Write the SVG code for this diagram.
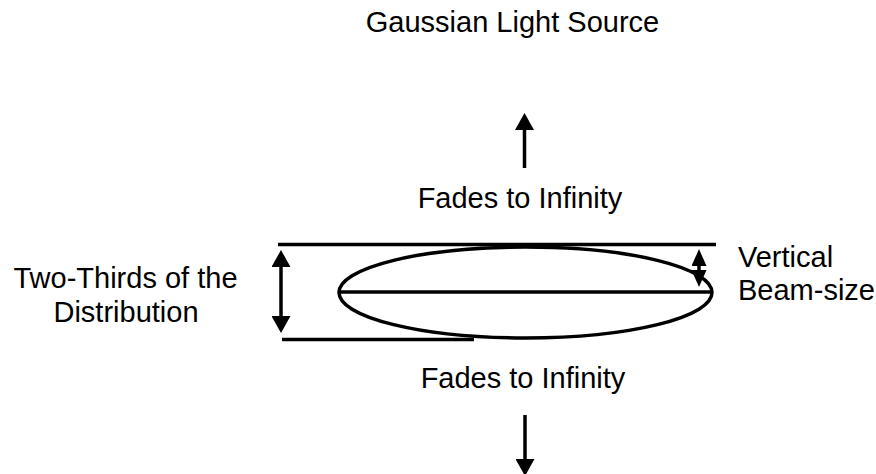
<svg xmlns="http://www.w3.org/2000/svg" width="876" height="474" viewBox="0 0 876 474">
  <style>
    .t { font-family: "Liberation Sans", Arial, sans-serif; font-size: 29px; fill: #000; }
    .ln { stroke: #000; stroke-width: 3.5; fill: none; }
    .ar { stroke: #000; stroke-width: 3.5; fill: none; }
  </style>
  <defs>
    <marker id="ah" viewBox="0 0 17 19" refX="0" refY="9.5" markerWidth="17" markerHeight="19" markerUnits="userSpaceOnUse" orient="auto-start-reverse">
      <path d="M0,0 L17,9.5 L0,19 Z" fill="#000"/>
    </marker>
    <marker id="ahs" viewBox="0 0 17 15" refX="0" refY="7.5" markerWidth="17" markerHeight="15" markerUnits="userSpaceOnUse" orient="auto-start-reverse">
      <path d="M0,0 L17,7.5 L0,15 Z" fill="#000"/>
    </marker>
  </defs>
  <rect width="876" height="474" fill="#fff"/>

  <g id="title"><text class="t" x="512.5" y="32" text-anchor="middle">Gaussian Light Source</text></g>
  <g id="fades-top"><text class="t" x="520" y="208" text-anchor="middle">Fades to Infinity</text></g>
  <g id="fades-bottom"><text class="t" x="523" y="388" text-anchor="middle">Fades to Infinity</text></g>
  <g id="two-thirds">
    <text class="t" x="125.5" y="288" text-anchor="middle">Two-Thirds of the</text>
    <text class="t" x="126" y="322" text-anchor="middle">Distribution</text>
  </g>
  <g id="beam-size">
    <text class="t" x="738" y="267">Vertical</text>
    <text class="t" x="738" y="300">Beam-size</text>
  </g>

  <g id="beam">
    <line class="ln" x1="278" y1="244.5" x2="716" y2="244.5"/>
    <line class="ln" x1="282" y1="339.5" x2="474" y2="339.5"/>
    <ellipse class="ln" cx="525.5" cy="292.5" rx="186.5" ry="45.5" stroke-width="3"/>
    <line class="ln" x1="339" y1="292" x2="712" y2="292" stroke-width="3"/>
  </g>

  <g id="connectors">
    <line class="ar" x1="524.5" y1="168" x2="524.5" y2="130" marker-end="url(#ah)"/>
    <line class="ar" x1="525" y1="415" x2="525" y2="459" marker-end="url(#ah)"/>
    <line class="ar" x1="281" y1="267" x2="281" y2="316" marker-start="url(#ah)" marker-end="url(#ah)"/>
    <line class="ar" x1="699" y1="266" x2="699" y2="270" marker-start="url(#ahs)" marker-end="url(#ahs)"/>
  </g>
</svg>
